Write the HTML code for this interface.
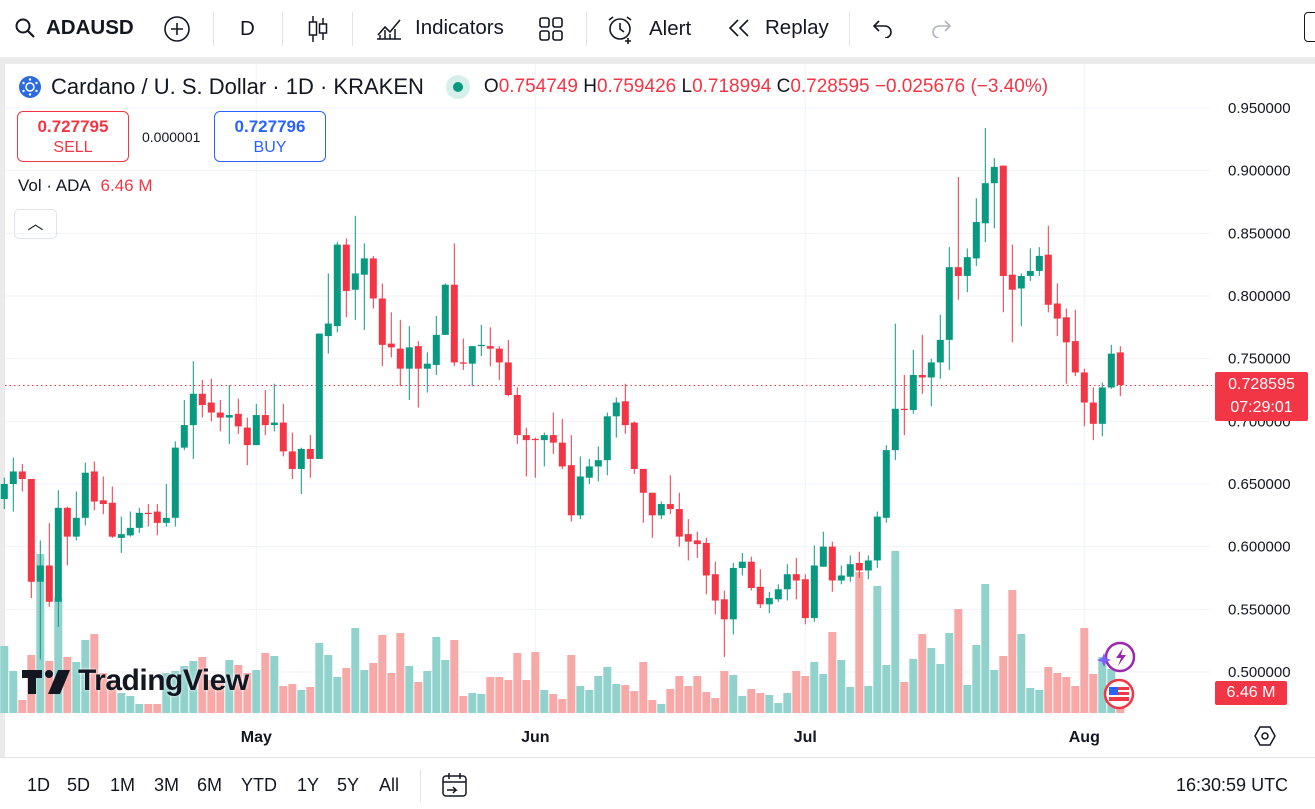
<!DOCTYPE html>
<html><head><meta charset="utf-8"><style>
*{box-sizing:border-box}body{margin:0;width:1315px;height:809px;overflow:hidden;background:#fff;font-family:"Liberation Sans",sans-serif;color:#131722;position:relative}
.abs{position:absolute}
.tb{font-size:20.5px;display:flex;align-items:center}
.sep{position:absolute;top:12px;width:1px;height:34px;background:#e0e3eb}
.bt{position:absolute;top:775px;font-size:18px}
</style></head><body>
<div class="abs" style="left:0;top:0;width:1315px;height:58px;border-bottom:1px solid #e0e3eb">
 <div class="abs tb" style="left:14px;top:16px;font-weight:bold"><svg width="22" height="22" viewBox="0 0 22 22"><circle cx="9" cy="9" r="6.5" fill="none" stroke="#131722" stroke-width="2"/><line x1="14" y1="14" x2="20" y2="20" stroke="#131722" stroke-width="2.2"/></svg><span style="margin-left:10px">ADAUSD</span></div>
 <svg class="abs" style="left:163px;top:15px" width="28" height="28"><circle cx="14" cy="14" r="12" fill="none" stroke="#131722" stroke-width="1.6"/><path d="M14 8v12M8 14h12" stroke="#131722" stroke-width="1.6"/></svg>
 <div class="sep" style="left:213px"></div>
 <div class="abs tb" style="left:240px;top:17px">D</div>
 <div class="sep" style="left:282px"></div>
 <svg class="abs" style="left:305px;top:14px" width="26" height="30"><path d="M8 2v26M18 4v22" stroke="#131722" stroke-width="1.5"/><rect x="4.5" y="8" width="7" height="13" fill="#fff" stroke="#131722" stroke-width="1.5"/><rect x="14.5" y="10" width="7" height="9" fill="#fff" stroke="#131722" stroke-width="1.5"/></svg>
 <div class="sep" style="left:352px"></div>
 <div class="abs tb" style="left:375px;top:15px"><svg width="28" height="26"><path d="M2 24h24M3 20l7-8 5 5 10-12" fill="none" stroke="#131722" stroke-width="1.6"/><path d="M5 24v-4M10 24v-9M15 24v-5M20 24v-10" stroke="#131722" stroke-width="1.5"/></svg><span style="margin-left:12px">Indicators</span></div>
 <svg class="abs" style="left:538px;top:16px" width="26" height="26"><g fill="none" stroke="#131722" stroke-width="1.6"><rect x="2" y="2" width="9" height="9" rx="2"/><rect x="15" y="2" width="9" height="9" rx="2"/><rect x="2" y="15" width="9" height="9" rx="2"/><rect x="15" y="15" width="9" height="9" rx="2"/></g></svg>
 <div class="sep" style="left:586px"></div>
 <div class="abs tb" style="left:606px;top:14px"><svg width="30" height="30"><circle cx="14" cy="15" r="10" fill="none" stroke="#131722" stroke-width="1.6"/><path d="M14 9v6l4 3M3 6l4-3M25 6l-4-3M22 24v6M19 27h6" stroke="#131722" stroke-width="1.6" fill="none"/></svg><span style="margin-left:13px">Alert</span></div>
 <div class="abs tb" style="left:727px;top:16px"><svg width="24" height="22"><path d="M11 3L3 11l8 8M21 3l-8 8 8 8" fill="none" stroke="#131722" stroke-width="1.6"/></svg><span style="margin-left:14px">Replay</span></div>
 <div class="sep" style="left:849px"></div>
 <svg class="abs" style="left:871px;top:18px" width="24" height="20"><path d="M8 3L3 8l5 5M3 8h11a6 6 0 0 1 0 12" fill="none" stroke="#131722" stroke-width="1.6"/></svg>
 <svg class="abs" style="left:929px;top:18px" width="24" height="20"><path d="M16 3l5 5-5 5M21 8H10a6 6 0 0 0 0 12" fill="none" stroke="#b2b5be" stroke-width="1.6"/></svg>
 <div class="abs" style="left:1304px;top:12px;width:20px;height:30px;border:1.5px solid #131722;border-radius:4px"></div>
</div>
<div class="abs" style="left:0;top:57px;width:1315px;height:7px;background:#ebebeb"></div>
<div class="abs" style="left:0;top:57px;width:5px;height:700px;background:#ebebeb"></div>
<div class="abs" style="left:0;top:757px;width:1315px;height:1px;background:#e0e3eb"></div>

<svg id="chart" class="abs" style="left:0;top:0" width="1315" height="760"></svg>

<div class="abs" style="left:18px;top:74px;display:flex;align-items:center;font-size:22px">
 <svg width="24" height="24"><circle cx="12" cy="12" r="11" fill="#2a6be0"/><circle cx="12" cy="12" r="4" fill="none" stroke="#fff" stroke-width="1.5"/><g fill="#fff"><circle cx="12" cy="4.5" r="1.2"/><circle cx="12" cy="19.5" r="1.2"/><circle cx="5.5" cy="8" r="1.2"/><circle cx="18.5" cy="8" r="1.2"/><circle cx="5.5" cy="16" r="1.2"/><circle cx="18.5" cy="16" r="1.2"/></g></svg>
 <span style="margin-left:9px">Cardano / U. S. Dollar · 1D · KRAKEN</span>
 <span style="margin-left:22px;width:24px;height:24px;border-radius:50%;background:#d5f0ea;display:inline-flex;align-items:center;justify-content:center"><span style="width:10px;height:10px;border-radius:50%;background:#089981"></span></span>
 <span style="margin-left:14px;font-size:19px;color:#f23645"><span style="color:#131722">O</span>0.754749 <span style="color:#131722">H</span>0.759426 <span style="color:#131722">L</span>0.718994 <span style="color:#131722">C</span>0.728595 −0.025676 (−3.40%)</span>
</div>
<div class="abs" style="left:17px;top:111px;width:112px;height:51px;border:1px solid #f23645;border-radius:6px;color:#f23645;text-align:center;font-size:16px;line-height:20px;padding-top:5px"><b style="font-size:17px">0.727795</b><br>SELL</div>
<div class="abs" style="left:142px;top:129px;font-size:14px">0.000001</div>
<div class="abs" style="left:214px;top:111px;width:112px;height:51px;border:1px solid #2962ff;border-radius:6px;color:#2962ff;text-align:center;font-size:16px;line-height:20px;padding-top:5px"><b style="font-size:17px">0.727796</b><br>BUY</div>
<div class="abs" style="left:18px;top:176px;font-size:17px">Vol · ADA <span style="color:#f23645;margin-left:6px">6.46 M</span></div>
<div class="abs" style="left:14px;top:209px;width:43px;height:30px;border:1px solid #e0e3eb;border-radius:5px;text-align:center;font-size:16px;line-height:30px">︿</div>
<div class="abs" style="left:22px;top:664px;font-size:30px;font-weight:bold;letter-spacing:-0.5px;display:flex;align-items:center;color:#131722;text-shadow:0 0 3px #fff"><svg width="50" height="26"><path d="M0 2h20v8h-6v16H6V10H0z" fill="#131722"/><circle cx="27" cy="6" r="4" fill="#131722"/><path d="M36 2h12L38 26H26z" fill="#131722"/></svg><span style="margin-left:6px">TradingView</span></div>
<div class="abs" style="left:1215px;top:372px;width:93px;height:49px;background:#f23645;color:#fff;font-size:16px;text-align:center;line-height:23px;padding-top:1px;border-radius:2px">0.728595<br>07:29:01</div>
<div class="abs" style="left:1215px;top:681px;width:72px;height:24px;background:#f23645;color:#fff;font-size:16px;text-align:center;line-height:24px;border-radius:2px">6.46 M</div>
<svg class="abs" style="left:1096px;top:641px" width="42" height="34"><circle cx="24" cy="16" r="14" fill="#fff" stroke="#9c27b0" stroke-width="2.5"/><path d="M27 7l-7 10h5l-3 8 8-11h-5z" fill="#9c27b0"/><path d="M8 12l2 5 5 2-5 2-2 5-2-5-5-2 5-2z" fill="#7b61ff"/></svg>
<svg class="abs" style="left:1102px;top:678px" width="34" height="32"><circle cx="17" cy="16" r="14" fill="#fff" stroke="#f23645" stroke-width="2.5"/><rect x="7" y="9" width="20" height="14" fill="#f23645"/><rect x="7" y="12" width="20" height="2" fill="#fff"/><rect x="7" y="17" width="20" height="2" fill="#fff"/><rect x="7" y="9" width="9" height="8" fill="#2962ff"/></svg>
<svg class="abs" style="left:1254px;top:725px" width="22" height="22"><path d="M6 2h10l5 9-5 9H6l-5-9z" fill="none" stroke="#131722" stroke-width="1.5"/><circle cx="11" cy="11" r="3" fill="none" stroke="#131722" stroke-width="1.5"/></svg>
<div>
<span class="bt" style="left:27px">1D</span>
<span class="bt" style="left:67px">5D</span>
<span class="bt" style="left:110px">1M</span>
<span class="bt" style="left:154px">3M</span>
<span class="bt" style="left:197px">6M</span>
<span class="bt" style="left:241px">YTD</span>
<span class="bt" style="left:297px">1Y</span>
<span class="bt" style="left:337px">5Y</span>
<span class="bt" style="left:379px">All</span>
<div class="abs" style="left:420px;top:770px;width:1px;height:32px;background:#e0e3eb"></div>
<svg class="abs" style="left:440px;top:771px" width="30" height="30"><rect x="3" y="5" width="23" height="20" rx="3" fill="none" stroke="#131722" stroke-width="1.5"/><path d="M3 11h23M9 2v6M20 2v6M7 19h9l-3-3M16 19l-3 3" fill="none" stroke="#131722" stroke-width="1.5"/></svg>
<span class="bt" style="left:1176px">16:30:59 UTC</span>
</div>
<script>
const priceTicks=[0.95,0.90,0.85,0.80,0.75,0.70,0.65,0.60,0.55,0.50];
const monthLabels=["May","Jun","Jul","Aug"];
const monthIndex=[28,59,89,120];
const opens=[.638,.650,.660,.654,.572,.585,.556,.631,.608,.623,.660,.637,.635,.607,.609,.615,.627,.628,.619,.623,.679,.697,.722,.715,.707,.703,.706,.695,.681,.705,.697,.699,.676,.662,.678,.670,.768,.776,.841,.805,.817,.830,.798,.762,.758,.742,.760,.742,.745,.769,.809,.747,.746,.760,.760,.758,.747,.721,.689,.686,.685,.689,.683,.665,.625,.655,.664,.669,.704,.716,.699,.662,.643,.625,.634,.630,.610,.605,.603,.578,.558,.542,.583,.588,.568,.554,.558,.566,.578,.574,.543,.584,.600,.573,.576,.587,.581,.589,.623,.677,.710,.709,.737,.735,.747,.765,.823,.816,.830,.858,.890,.904,.817,.806,.816,.820,.833,.794,.783,.764,.739,.715,.698,.727,.755];
const highs=[.655,.671,.666,.654,.605,.619,.645,.632,.644,.667,.668,.656,.648,.624,.628,.631,.634,.634,.650,.684,.717,.748,.733,.734,.717,.729,.718,.703,.714,.725,.730,.714,.691,.679,.689,.770,.818,.843,.846,.864,.842,.832,.810,.787,.781,.776,.764,.755,.784,.810,.842,.766,.760,.777,.775,.760,.765,.727,.695,.687,.691,.707,.702,.689,.672,.670,.680,.707,.719,.730,.700,.662,.643,.636,.657,.643,.622,.612,.607,.588,.565,.587,.595,.592,.582,.564,.570,.586,.591,.578,.601,.612,.604,.585,.593,.596,.593,.628,.681,.778,.737,.757,.769,.750,.785,.839,.895,.838,.878,.934,.910,.904,.841,.818,.838,.839,.856,.810,.790,.789,.742,.727,.731,.761,.760];
const lows=[.630,.628,.644,.559,.510,.552,.536,.585,.605,.617,.629,.626,.607,.595,.608,.611,.616,.609,.616,.616,.677,.670,.703,.700,.692,.682,.690,.665,.681,.689,.692,.672,.654,.642,.655,.670,.754,.771,.783,.781,.773,.790,.744,.751,.728,.717,.711,.723,.737,.769,.744,.741,.728,.752,.744,.733,.720,.682,.656,.655,.664,.674,.662,.620,.622,.650,.652,.657,.687,.690,.658,.619,.607,.622,.626,.600,.589,.591,.562,.546,.512,.530,.577,.565,.551,.547,.556,.557,.558,.538,.540,.584,.564,.570,.572,.575,.574,.583,.619,.669,.689,.706,.722,.712,.734,.741,.797,.803,.824,.843,.854,.787,.763,.776,.812,.816,.787,.768,.730,.736,.696,.685,.688,.726,.720];
const closes=[.650,.660,.654,.572,.585,.556,.631,.608,.623,.659,.636,.634,.608,.610,.615,.627,.626,.619,.623,.679,.697,.722,.713,.707,.703,.705,.696,.681,.705,.697,.699,.676,.662,.678,.670,.770,.778,.841,.804,.818,.830,.798,.761,.759,.742,.759,.742,.746,.769,.809,.747,.746,.760,.761,.758,.747,.721,.689,.685,.685,.689,.683,.664,.625,.656,.664,.669,.704,.715,.697,.662,.643,.625,.634,.630,.608,.604,.602,.577,.557,.542,.583,.588,.567,.554,.559,.566,.578,.573,.543,.585,.600,.573,.577,.586,.581,.589,.624,.677,.710,.709,.737,.735,.747,.765,.823,.816,.831,.859,.890,.903,.816,.805,.816,.820,.832,.793,.782,.763,.739,.715,.698,.727,.754,.729];
const volumes=[67,42,13,58,159,52,115,56,51,73,79,40,33,20,17,9,9,9,40,42,47,52,56,33,33,53,48,40,43,60,57,27,29,23,26,70,58,36,45,85,43,50,78,40,80,47,31,42,76,53,73,17,20,19,36,36,33,60,33,61,23,19,14,58,27,23,37,46,29,28,22,51,13,9,24,37,27,37,21,15,42,38,17,24,20,18,10,20,42,37,51,39,81,53,26,141,27,127,48,162,31,54,79,65,49,80,104,28,68,129,43,57,123,79,25,23,46,40,36,27,85,39,56,44,10];
const lastClose=0.728595;
const NS='http://www.w3.org/2000/svg';
const svg=document.getElementById('chart');
const yP=p=>108+(0.95-p)*1253.3;
const xI=i=>4.3+9*i;
const volBase=713,volMaxPx=162;
const maxV=Math.max(...volumes);
const yV=v=>volBase-v/maxV*volMaxPx;
function mk(tag,attrs){const e=document.createElementNS(NS,tag);for(const k in attrs)e.setAttribute(k,attrs[k]);svg.appendChild(e);return e;}
priceTicks.forEach(p=>{
 const g=mk('line',{x1:5,x2:1210,y1:yP(p),y2:yP(p),stroke:'#f0f3fa','stroke-width':1});
 
 
 const t=mk('text',{x:1228,y:yP(p)+5,'font-size':15,fill:'#131722','font-family':'Liberation Sans, sans-serif'});
 t.textContent=p.toFixed(6);
 
 
});
monthIndex.forEach((mi,k)=>{
 const g=mk('line',{x1:xI(mi),x2:xI(mi),y1:64,y2:713,stroke:'#f0f3fa','stroke-width':1});
 
 
 const t=mk('text',{x:xI(mi),y:742,'font-size':16,'font-weight':'bold','text-anchor':'middle',fill:'#131722','font-family':'Liberation Sans, sans-serif'});
 t.textContent=monthLabels[k];
 
 
});
volumes.forEach((v,i)=>{
 const up=closes[i]>=opens[i];
 const r=mk('rect',{x:xI(i)-4,y:yV(v),width:8,height:volBase-yV(v),fill:up?'#92d2cc':'#f7a9a7'});
 
 
});
const pl=mk('line',{x1:5,x2:1212,y1:yP(lastClose),y2:yP(lastClose),stroke:'#f23645','stroke-width':1,'stroke-dasharray':'1.5 3'});


opens.forEach((o,i)=>{
 const c=closes[i],up=c>=o,col=up?'#089981':'#f23645';
 const w=mk('line',{x1:xI(i),x2:xI(i),y1:yP(highs[i]),y2:yP(lows[i]),stroke:col,'stroke-width':1});
 
 
 const top=yP(Math.max(o,c)),bot=yP(Math.min(o,c));
 const b=mk('rect',{x:xI(i)-3.5,y:top,width:7,height:Math.max(1,bot-top),fill:col});
 
 
});
</script>
</body></html>
